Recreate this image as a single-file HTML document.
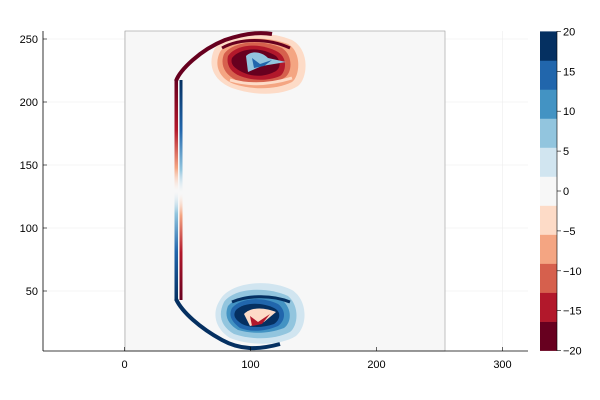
<!DOCTYPE html>
<html><head><meta charset="utf-8"><style>
body{margin:0;background:#fff;}
svg{display:block;font-family:"Liberation Sans","DejaVu Sans",sans-serif;}
</style></head><body>
<svg width="600" height="400" viewBox="0 0 600 400">
<defs>
<linearGradient id="gTopR" x1="0" y1="0" x2="0" y2="1"><stop offset="0" stop-color="#67001f"/><stop offset="0.45" stop-color="#b2182b"/><stop offset="0.8" stop-color="#f4a582"/><stop offset="1" stop-color="#fddbc7" stop-opacity="0"/></linearGradient>
<linearGradient id="gTopB" x1="0" y1="0" x2="0" y2="1"><stop offset="0" stop-color="#053061"/><stop offset="0.45" stop-color="#2166ac"/><stop offset="0.8" stop-color="#92c5de"/><stop offset="1" stop-color="#d1e5f0" stop-opacity="0"/></linearGradient>
<linearGradient id="gBotB" x1="0" y1="1" x2="0" y2="0"><stop offset="0" stop-color="#053061"/><stop offset="0.45" stop-color="#2166ac"/><stop offset="0.8" stop-color="#92c5de"/><stop offset="1" stop-color="#d1e5f0" stop-opacity="0"/></linearGradient>
<linearGradient id="gBotR" x1="0" y1="1" x2="0" y2="0"><stop offset="0" stop-color="#67001f"/><stop offset="0.45" stop-color="#b2182b"/><stop offset="0.8" stop-color="#f4a582"/><stop offset="1" stop-color="#fddbc7" stop-opacity="0"/></linearGradient>
</defs>
<g id="grid" stroke="#ececec" stroke-width="0.6"></g>
<rect x="125" y="31" width="320" height="320" fill="#f7f7f7" stroke="#999" stroke-width="0.6"/>
<g>
 <path d="M214,50 C222,34 262,28 292,40 C310,50 308,78 298,86 C282,96 254,96 232,88 C212,80 208,64 214,50Z" fill="#fddbc7"/>
 <path d="M220,52 C228,38 262,34 288,44 C302,52 300,76 292,82 C276,90 252,90 234,84 C218,78 214,64 220,52Z" fill="#f4a582"/>
 <path d="M224,54 C232,42 260,38 282,48 C294,56 292,74 284,78 C270,86 250,84 236,80 C224,74 220,64 224,54Z" fill="#d6604d"/>
 <path d="M228,56 C236,44 260,42 278,52 C288,58 286,72 280,76 C266,82 250,80 240,76 C230,72 226,64 228,56Z" fill="#b2182b"/>
 <path d="M232,58 C240,48 260,46 276,56 C282,62 280,70 274,72 C262,78 250,76 242,72 C234,68 230,64 232,58Z" fill="#67001f"/>
 <path d="M246,56 C252,50 262,52 268,58 L286,62 L262,66 L248,72Z" fill="#92c5de"/>
 <path d="M252,58 L260,64 L272,60 L264,66 L254,68Z" fill="#2166ac"/>
 <path d="M230,80 C250,86 272,84 292,78" stroke="#fddbc7" stroke-width="3" fill="none"/>
 <path d="M222,48 C240,38 268,38 290,48" stroke="#67001f" stroke-width="3" fill="none"/>
</g>
<g>
 <path d="M220,300 C230,282 268,278 292,290 C308,300 308,326 296,336 C280,346 250,346 230,338 C214,328 212,312 220,300Z" fill="#d1e5f0"/>
 <path d="M224,302 C234,288 266,286 288,296 C300,306 298,326 290,332 C274,340 252,340 234,334 C220,326 218,314 224,302Z" fill="#92c5de"/>
 <path d="M228,306 C238,294 262,292 282,300 C292,308 292,322 284,328 C268,334 252,334 238,330 C228,324 224,316 228,306Z" fill="#4393c3"/>
 <path d="M232,308 C240,298 262,296 278,304 C286,310 286,320 278,326 C264,332 250,332 240,328 C232,322 228,316 232,308Z" fill="#2166ac"/>
 <path d="M236,310 C244,302 262,302 274,308 C282,312 280,320 274,324 C262,328 250,328 242,324 C236,320 232,316 236,310Z" fill="#053061"/>
 <path d="M244,314 C252,306 266,308 276,312 L264,322 L250,326Z" fill="#fddbc7"/>
 <path d="M250,316 L258,322 L270,314 L262,324 L252,326Z" fill="#b2182b"/>
 <path d="M232,302 C246,296 270,294 290,302" stroke="#053061" stroke-width="3" fill="none"/>
</g>
<g fill="none">
 <rect x="174.5" y="80" width="3.5" height="110" fill="url(#gTopR)" stroke="none"/>
 <rect x="179.5" y="80" width="3" height="112" fill="url(#gTopB)" stroke="none"/>
 <rect x="174.5" y="192" width="3.5" height="108" fill="url(#gBotB)" stroke="none"/>
 <rect x="179.5" y="194" width="3" height="106" fill="url(#gBotR)" stroke="none"/>
 <path d="M176,81 C180,70 200,50 225,40 C245,33 260,32 272,34" stroke="#67001f" stroke-width="4"/>
 <path d="M176,299 C182,312 200,328 222,340 C240,350 258,350 280,344" stroke="#053061" stroke-width="4"/>
</g>
<g id="axes"></g>
<g id="cbar"></g>
</svg>
<script>
const xTicks=[0,100,200,300];
const yTicks=[50,100,150,200,250];
const cbColors=["#67001f","#b2182b","#d6604d","#f4a582","#fddbc7","#f7f7f7","#d1e5f0","#92c5de","#4393c3","#2166ac","#053061"];
const cbTicks=[-20,-15,-10,-5,0,5,10,15,20];
const NS="http://www.w3.org/2000/svg";
const sx=v=>124.5+v*1.26, sy=v=>354-v*1.26;
const cy=v=>191-v*7.98;
function mk(t,a,p){const e=document.createElementNS(NS,t);for(const k in a)e.setAttribute(k,a[k]);p.appendChild(e);return e;}
const grid=document.getElementById('grid'),ax=document.getElementById('axes'),cb=document.getElementById('cbar');
xTicks.forEach(v=>{const l=mk('line',{x1:sx(v),x2:sx(v),y1:31,y2:351},grid);


const t=mk('text',{x:sx(v),y:368,'text-anchor':'middle','font-size':11,fill:'#000'},ax);t.textContent=v;


mk('line',{x1:sx(v),x2:sx(v),y1:351,y2:347,stroke:'#000','stroke-width':0.6},ax);});
yTicks.forEach(v=>{const l=mk('line',{x1:43,x2:528,y1:sy(v),y2:sy(v)},grid);


const t=mk('text',{x:38,y:sy(v)+4,'text-anchor':'end','font-size':11,fill:'#000'},ax);t.textContent=v;


mk('line',{x1:43,x2:47,y1:sy(v),y2:sy(v),stroke:'#000','stroke-width':0.6},ax);});
mk('line',{x1:43,x2:528,y1:351,y2:351,stroke:'#000','stroke-width':0.8},ax);
mk('line',{x1:43,x2:43,y1:31,y2:351,stroke:'#000','stroke-width':0.8},ax);
const bw=40/cbColors.length;
cbColors.forEach((c,i)=>{const lo=-20+i*bw;const r=mk('rect',{x:540,width:17,y:cy(lo+bw),height:cy(lo)-cy(lo+bw)+0.3,fill:c},cb);

});
mk('line',{x1:557,x2:557,y1:31,y2:351,stroke:'#000','stroke-width':0.6},cb);
cbTicks.forEach(v=>{mk('line',{x1:557,x2:561,y1:cy(v),y2:cy(v),stroke:'#000','stroke-width':0.6},cb);
const t=mk('text',{x:563,y:cy(v)+4,'font-size':11,fill:'#000'},cb);t.textContent=(v<0?'\u2212'+(-v):v);

});
</script>
</body></html>
